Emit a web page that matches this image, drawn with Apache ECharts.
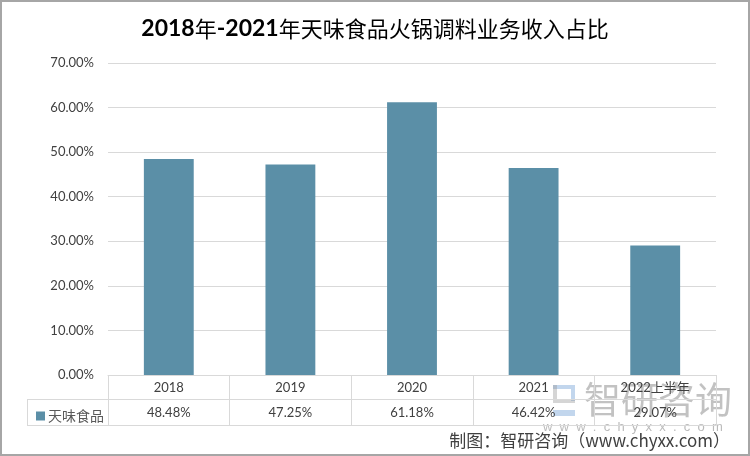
<!DOCTYPE html>
<html>
<head>
<meta charset="utf-8">
<script src="https://cdn.jsdelivr.net/npm/echarts@6/dist/echarts.min.js"></script>
<style>
html,body{margin:0;padding:0;background:#fff;}
#chart{width:750px;height:456px;}
</style>
</head>
<body>
<div id="chart"></div>
<script>
var categories = ['2018', '2019', '2020', '2021', '2022上半年'];
var seriesName = '天味食品';
var values = [48.48, 47.25, 61.18, 46.42, 29.07];
var yTicks = { min: 0, max: 70, interval: 10 };

var valueLabels = values.map(function (v) { return v.toFixed(2) + '%'; });
var latin = 'Lato, "Noto Sans CJK SC", sans-serif';
var cjk = '"Noto Sans CJK SC", sans-serif';
var gridColor = '#d9d9d9';

var chart = echarts.init(document.getElementById('chart'), null, { renderer: 'canvas' });
chart.setOption({
  animation: false,
  backgroundColor: '#fff',
  title: {
    left: 'center',
    top: 12,
    text: '{a|2018}{b|年}{a|-2021}{b|年天味食品火锅调料业务收入占比}',
    textStyle: {
      rich: {
        a: { fontFamily: latin, fontWeight: 'bold', fontSize: 23, color: '#000' },
        b: { fontFamily: cjk, fontWeight: 'normal', fontSize: 22, color: '#000' }
      }
    }
  },
  legend: {
    left: 31,
    top: 404,
    icon: 'rect',
    itemWidth: 9,
    itemHeight: 9,
    itemGap: 4,
    textStyle: { fontFamily: cjk, fontSize: 14, color: '#595959', padding: [0, 0, 0, -2] },
    data: [seriesName]
  },
  grid: { left: 108, right: 34, top: 63, bottom: 81 },
  xAxis: [
    {
      type: 'category',
      data: categories,
      position: 'bottom',
      axisLine: { show: true, lineStyle: { color: gridColor } },
      axisTick: { show: true, interval: 0, length: 50, lineStyle: { color: gridColor } },
      axisLabel: { interval: 0, margin: 6, fontFamily: latin, fontSize: 13, color: '#404040' }
    },
    {
      type: 'category',
      data: valueLabels,
      position: 'bottom',
      offset: 24,
      axisLine: { show: true, lineStyle: { color: gridColor } },
      axisTick: { show: false },
      axisLabel: { interval: 0, margin: 7, fontFamily: latin, fontSize: 13, color: '#404040' }
    },
    {
      type: 'category',
      data: categories,
      position: 'bottom',
      offset: 50,
      axisLine: { show: true, lineStyle: { color: gridColor } },
      axisTick: { show: false },
      axisLabel: { show: false }
    }
  ],
  yAxis: {
    type: 'value',
    min: yTicks.min,
    max: yTicks.max,
    interval: yTicks.interval,
    axisLine: { show: false },
    axisTick: { show: false },
    splitLine: { lineStyle: { color: gridColor } },
    axisLabel: {
      margin: 14,
      fontFamily: latin,
      fontSize: 13,
      color: '#404040',
      formatter: function (v) { return v.toFixed(2) + '%'; }
    }
  },
  series: [{
    name: seriesName,
    type: 'bar',
    xAxisIndex: 0,
    barWidth: '41%',
    itemStyle: { color: '#5b8fa7' },
    data: values
  }],
  graphic: [
    { type: 'rect', shape: { x: 1, y: 1, width: 748, height: 454 }, style: { fill: 'none', stroke: '#a6a6a6', lineWidth: 2 }, silent: true },
    { type: 'line', shape: { x1: 27, y1: 399.5, x2: 108, y2: 399.5 }, style: { stroke: gridColor, lineWidth: 1 } },
    { type: 'line', shape: { x1: 27, y1: 425.5, x2: 108, y2: 425.5 }, style: { stroke: gridColor, lineWidth: 1 } },
    { type: 'line', shape: { x1: 27.5, y1: 399, x2: 27.5, y2: 426 }, style: { stroke: gridColor, lineWidth: 1 } },
    {
      type: 'group', silent: true, z: 100,
      children: [
        { type: 'rect', shape: { x: 553, y: 385, width: 22, height: 4 }, style: { fill: 'rgba(120,165,215,0.45)' } },
        { type: 'rect', shape: { x: 553, y: 385, width: 4, height: 18 }, style: { fill: 'rgba(150,150,150,0.4)' } },
        { type: 'rect', shape: { x: 571, y: 389, width: 4, height: 12 }, style: { fill: 'rgba(120,165,215,0.45)' } },
        { type: 'rect', shape: { x: 557, y: 399, width: 18, height: 4 }, style: { fill: 'rgba(150,150,150,0.4)' } },
        { type: 'rect', shape: { x: 553, y: 410, width: 22, height: 6 }, style: { fill: 'rgba(120,165,215,0.45)' } },
        { type: 'text', style: { x: 584, y: 381, text: '智研咨询', font: 'normal 37px "Noto Sans CJK SC"', fill: 'rgba(120,120,120,0.45)' } },
        { type: 'text', style: { x: 543, y: 421, text: 'w  w  w  .  c  h  y  x  x  .  c  o  m', font: 'normal 13px "Liberation Sans"', fill: 'rgba(130,130,130,0.55)' } }
      ]
    },
    {
      type: 'text', z: 101,
      style: {
        x: 730, y: 432, textAlign: 'right',
        text: '制图：智研咨询（www.chyxx.com）',
        font: 'normal 17px "Noto Sans CJK SC"',
        fill: '#404040'
      }
    }
  ]
});
</script>
</body>
</html>
